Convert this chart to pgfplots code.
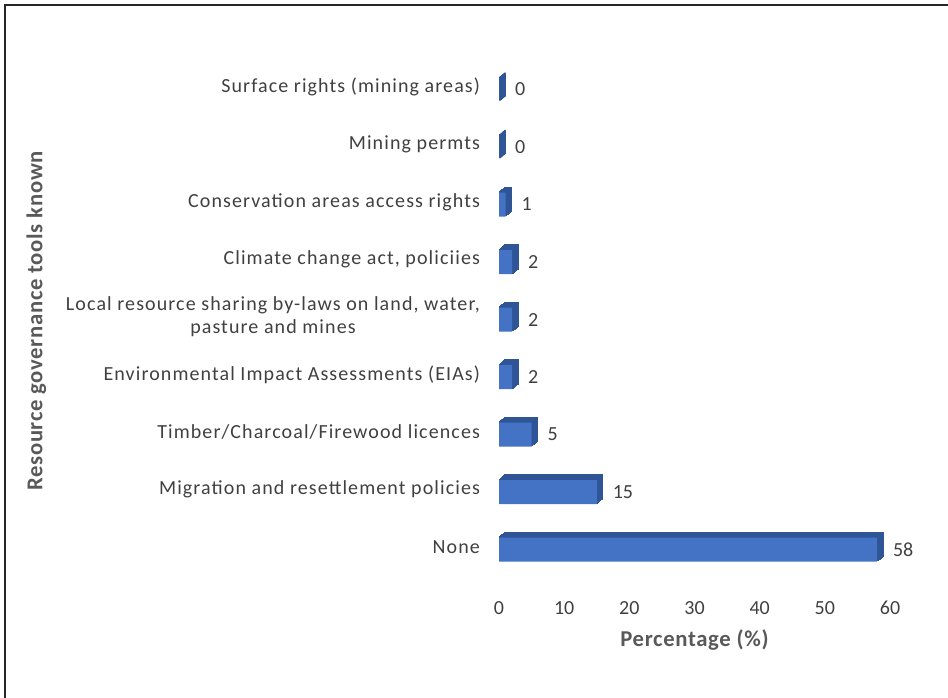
\documentclass[border=0pt]{standalone}
\usepackage{pgfplots}
\pgfplotsset{compat=1.18}
\usepackage{pgfplotstable}
\usepackage{fontspec}
\setmainfont{Carlito}
\newfontfamily\catfont[LetterSpace=5.5]{Carlito}
\newfontfamily\titlefont[LetterSpace=3]{Carlito}

\definecolor{barfront}{HTML}{4472C4}
\definecolor{barside}{HTML}{2F5597}
\definecolor{txt}{HTML}{404040}
\definecolor{ttl}{HTML}{595959}
\definecolor{framecol}{HTML}{262626}

% share of respondents (%) knowing each resource governance tool
\pgfplotstableread{
pos val
0 58
1 15
2 5
3 2
4 2
5 2
6 1
7 0
8 0
}\tools

\begin{document}
\begin{tikzpicture}
\useasboundingbox (0,0) rectangle (711pt,523.5pt);
\draw[framecol, line width=1.5pt] (3.75pt,0) -- (3.75pt,519.75pt) -- (711pt,519.75pt);
\begin{axis}[
  at={(374.25pt,91.6875pt)}, anchor=south west,
  scale only axis, width=293.25pt, height=388.125pt,
  xmin=0, xmax=60, ymin=-0.5, ymax=8.5,
  clip=false,
  axis line style={draw=none},
  major tick length=0pt,
  tick style={draw=none},
  xtick={0,10,...,60},
  ytick={0,...,8},
  yticklabels={None,
    Migration and resettlement policies,
    Timber/Charcoal/Firewood licences,
    Environmental Impact Assessments (EIAs),
    {Local resource sharing by-laws on land, water,\\ pasture and mines},
    {Climate change act, policiies},
    Conservation areas access rights,
    Mining permts,
    Surface rights (mining areas)},
  /pgf/number format/assume math mode=true,
  every tick label/.append style={font=\fontsize{15}{17}\selectfont, text=txt},
  xticklabel style={anchor=center, yshift=-24.2pt},
  yticklabel style={anchor=east, align=center, xshift=-10.75pt,
    font=\catfont\fontsize{15}{17}\selectfont},
  xlabel={Percentage (\%)},
  ylabel={Resource governance tools known},
  every axis x label/.style={at={(rel axis cs:0.5,0)}, anchor=center, yshift=-48.2pt,
    font=\titlefont\fontsize{17}{19}\selectfont\bfseries, text=ttl},
  every axis y label/.style={at={(rel axis cs:0,0.5)}, anchor=center,
    xshift=-347pt, yshift=-3pt, rotate=90,
    font=\titlefont\fontsize{17}{19}\selectfont\bfseries, text=ttl},
]
% depth of the boxes: stacked copies shifted up and to the right
\pgfplotsinvokeforeach{6,5,4,3,2,1}{
  \addplot[xbar, bar width=18pt, bar shift=0pt, fill=barside, draw=barside,
    line width=0.8pt, xshift=#1*0.75pt, yshift=-1.9pt+#1*0.625pt]
    table[x=val, y=pos]{\tools};
}
% front faces with value labels
\addplot[xbar, bar width=18pt, bar shift=0pt, fill=barfront, draw=none, yshift=-1.9pt,
  point meta=x, nodes near coords,
  nodes near coords style={anchor=west, xshift=8.5pt, yshift=0pt,
    font=\fontsize{15}{17}\selectfont, text=txt}]
  table[x=val, y=pos]{\tools};
\end{axis}
\end{tikzpicture}
\end{document}
